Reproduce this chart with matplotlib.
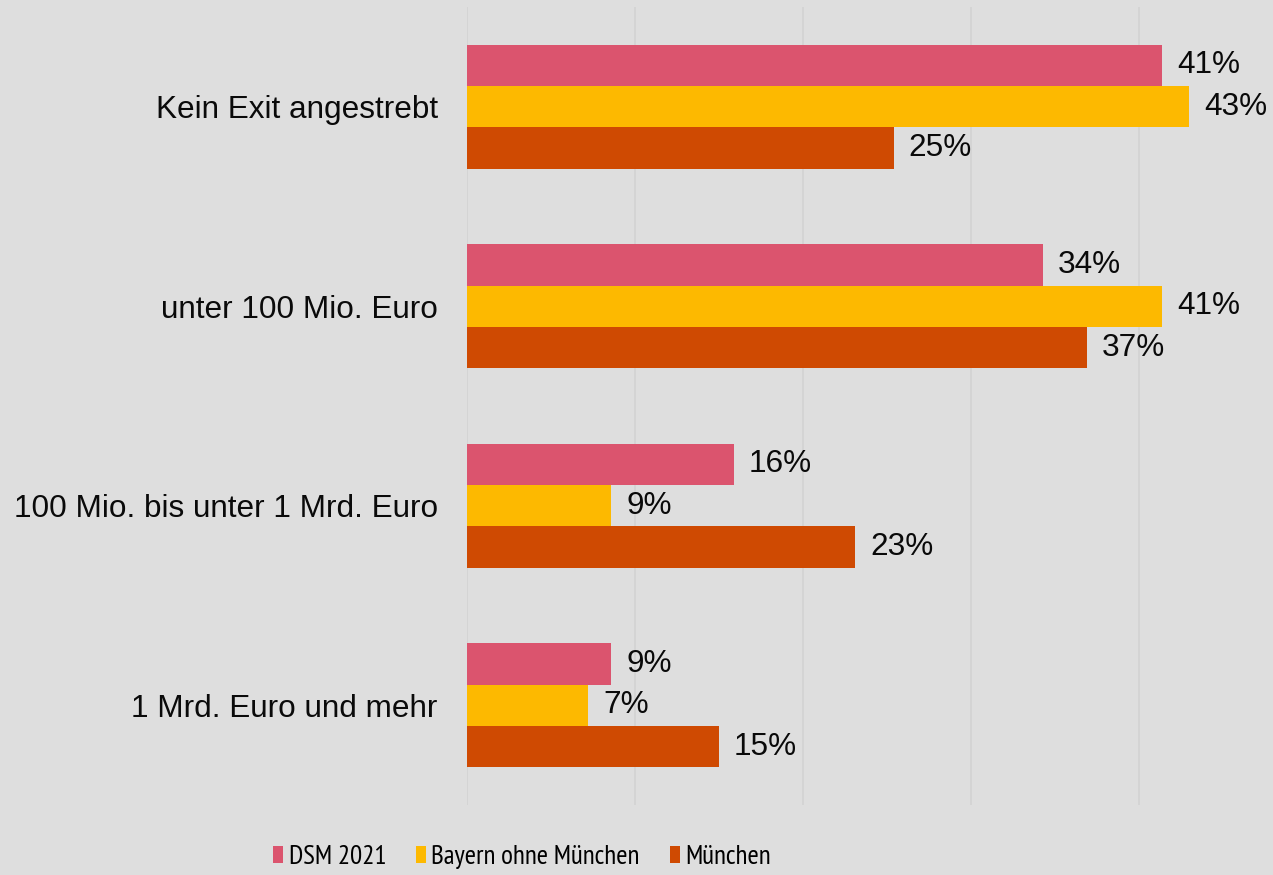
import matplotlib
matplotlib.use("Agg")
import matplotlib.pyplot as plt
import numpy as np

plt.rcParams['font.family'] = ['Liberation Sans', 'DejaVu Sans']

categories = ["Kein Exit angestrebt", "unter 100 Mio. Euro",
              "100 Mio. bis unter 1 Mrd. Euro", "1 Mrd. Euro und mehr"]
series = ["DSM 2021", "Bayern ohne München", "München"]
dsm = [41.4, 34.3, 15.9, 8.6]
bayern = [43.0, 41.4, 8.6, 7.2]
muenchen = [25.4, 36.9, 23.1, 15.0]
colors = ["#DB546E", "#FDB900", "#CF4A02"]

bg = "#DEDEDE"
fig = plt.figure(figsize=(12.73, 8.75), dpi=100, facecolor=bg)
ax = fig.add_axes([467 / 1273, 70 / 875, 806 / 1273, 798 / 875])
ax.set_facecolor(bg)

y = np.arange(len(categories))
h = 0.207
for i, (vals, name, c) in enumerate(zip([dsm, bayern, muenchen], series, colors)):
    pos = y + (i - 1) * h
    ax.barh(pos, vals, height=h, color=c, label=name, zorder=2)
    for p, v in zip(pos, vals):
        ax.text(v + 0.9, p, f"{v:.0f}%", va="center", ha="left", fontsize=22.7, color="#0A0A0A")

ax.set_xlim(0, 48)
ax.set_ylim(3.5, -0.5)
ax.set_yticks(y)
ax.set_yticklabels(categories, fontsize=22.7, color="#0A0A0A")
ax.tick_params(axis="y", length=0, pad=21)
ax.set_xticks([0, 10, 20, 30, 40])
ax.tick_params(axis="x", length=0, labelbottom=False)
ax.grid(axis="x", color="#D3D3D3", linewidth=1.2, zorder=0)
for s in ax.spines.values():
    s.set_visible(False)

fig.legend(loc="center", bbox_to_anchor=(522 / 1273, 1 - 857 / 875), ncol=3,
           frameon=False, handlelength=0.37, handleheight=0.6, handletextpad=0.2,
           columnspacing=1.1,
           prop={"family": ["PT Sans Narrow", "Liberation Sans"], "size": 19.5})

fig.savefig("out.png", dpi=100, facecolor=bg)
